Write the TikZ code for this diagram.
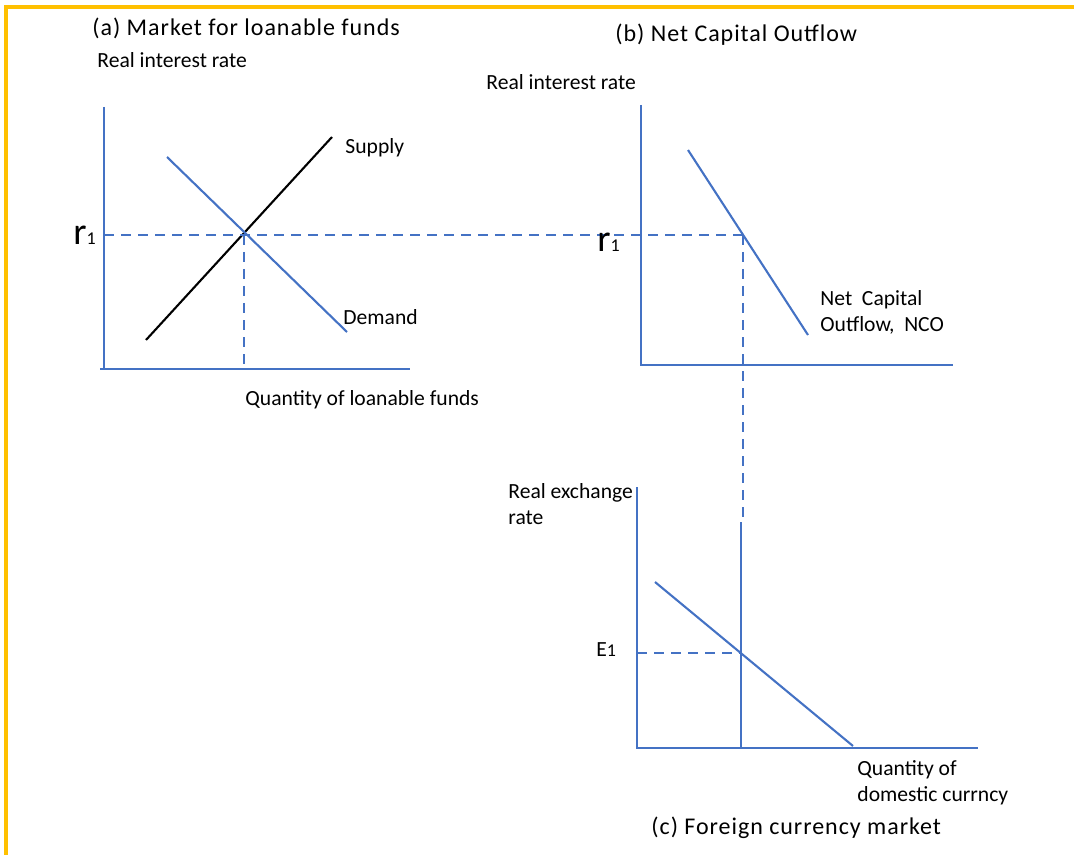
\documentclass[tikz,border=0pt]{standalone}
\usepackage{fontspec}
\setmainfont{Carlito}
\newfontfamily\ttlfont[LetterSpace=4]{Carlito}
\definecolor{axisblue}{HTML}{4472C4}
\definecolor{frameyellow}{HTML}{FFC000}
\tikzset{
	axis/.style={axisblue, line width=1.3pt},
	curve/.style={axisblue, line width=1.05pt},
	guide/.style={axisblue, line width=1.05pt, dash pattern=on 5pt off 3.5pt},
	lbl/.style={anchor=west, inner sep=0pt, font=\fontsize{10.8}{13}\selectfont, align=left},
	ttl/.style={anchor=west, inner sep=0pt, font=\ttlfont\fontsize{12}{14}\selectfont},
}
\newcommand{\rone}{{\fontsize{19}{20}\selectfont r}{\fontsize{9}{10}\selectfont 1}}
\begin{document}
\begin{tikzpicture}[x=0.5pt,y=-0.5pt]
		\useasboundingbox (0,0) rectangle (1074,855);
		\draw[frameyellow, line width=1.6pt] (1074,7) -- (6,7) -- (6,855);
		% (a) loanable funds
		\coordinate (Atop) at (104,107);
		\coordinate (Aorig) at (104,369);
		\coordinate (Aend) at (410,369);
		\coordinate (Sa) at (146,340);
		\coordinate (Sb) at (332,137);
		\coordinate (Da) at (167,157);
		\coordinate (Db) at (347,332);
		\coordinate (EqA) at (244,235);
		\draw[axis] (Atop) -- (Aorig);
		\draw[axis] (100,369) -- (Aend);
		\draw[line width=1.05pt] (Sa) -- (Sb);
		\draw[curve] (Da) -- (Db);
		\draw[guide] (EqA) -- (244,369);
		% (b) net capital outflow
		\coordinate (Btop) at (641,105);
		\coordinate (Borig) at (641,365);
		\coordinate (Bend) at (953,365);
		\coordinate (Na) at (688,150);
		\coordinate (Nb) at (808,335);
		\coordinate (EqB) at (743,235);
		\draw[axis] (Btop) -- (Borig) -- (Bend);
		\draw[curve] (Na) -- (Nb);
		\draw[guide] (104,235) -- (EqB);
		\draw[guide] (EqB) -- (743,522);
		% (c) foreign currency market
		\coordinate (Ctop) at (637,487);
		\coordinate (Corig) at (637,748);
		\coordinate (Cend) at (978,748);
		\coordinate (Fa) at (655,582);
		\coordinate (Fb) at (853,746);
		\coordinate (EqC) at (741,653);
		\draw[axis] (Ctop) -- (Corig) -- (Cend);
		\draw[curve] (Fa) -- (Fb);
		\draw[axis] (741,522) -- (741,748);
		\draw[guide] (637,653) -- (EqC);
		% texts
		\node[ttl] (ttlA) at (92,28) {(a) Market for loanable funds};
		\node[lbl] (yA) at (97,60) {Real interest rate};
		\node[lbl] (supply) at (345,148) {Supply};
		\node[lbl] (demand) at (343,317) {Demand};
		\node[lbl] (xA) at (245,400) {Quantity of loanable funds};
		\node[anchor=base west, inner sep=0pt] (rA) at (73,245) {\rone};
		\node[ttl] (ttlB) at (615,35) {(b) Net Capital Outflow};
		\node[lbl] (yB) at (486,82) {Real interest rate};
		\node[anchor=base west, inner sep=0pt] (rB) at (597,252) {\rone};
		\node[lbl] (nco) at (820,312) {Net\ \ Capital\\Outflow,\ \ NCO};
		\node[lbl] (yC) at (508,504) {Real exchange\\rate};
		\node[anchor=base west, inner sep=0pt, font=\fontsize{10.8}{12}\selectfont] (e1) at (596,656) {E{\fontsize{9}{10}\selectfont 1}};
		\node[lbl] (xC) at (857,783) {Quantity of\\domestic currncy};
		\node[ttl] (ttlC) at (651,828) {(c) Foreign currency market};
	\end{tikzpicture}
\end{document}
